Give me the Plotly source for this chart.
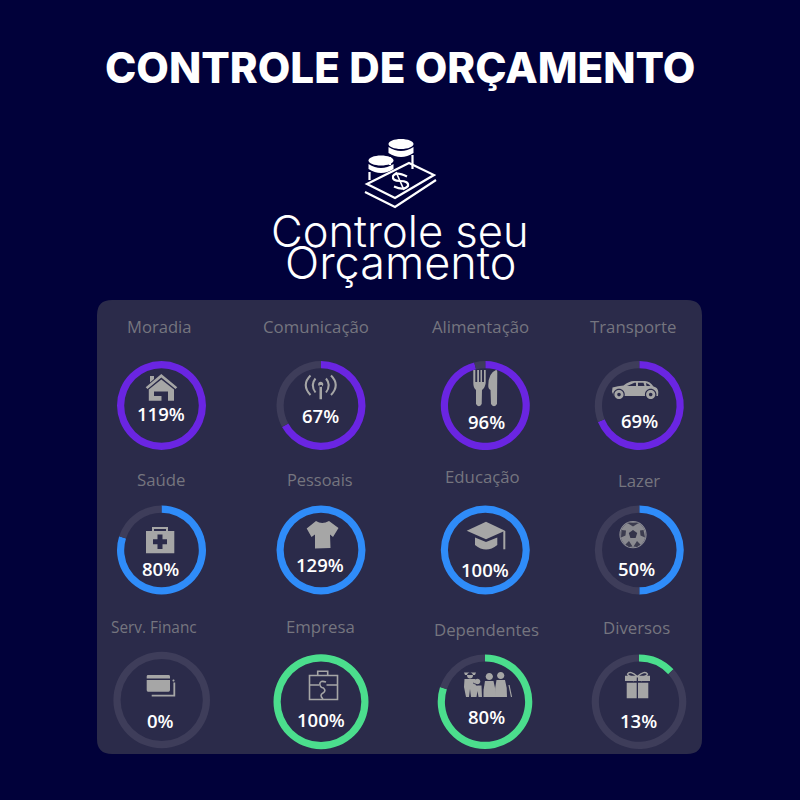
import re
import plotly.graph_objects as go

categories = ["Moradia", "Comunicação", "Alimentação", "Transporte",
              "Saúde", "Pessoais", "Educação", "Lazer",
              "Serv. Financ", "Empresa", "Dependentes", "Diversos"]
percent = [119, 67, 96, 69, 80, 129, 100, 50, 0, 100, 80, 13]
title_text = "CONTROLE DE ORÇAMENTO"
heading_lines = ["Controle seu", "Orçamento"]

PURPLE, BLUE, GREEN = "#6a25e2", "#2f8cf9", "#4bde8d"
TRACK = "#3e3d5a"
BG = "#01013a"
PANEL = "#2b2b4a"
GRAY = "#a6a6a6"
LABEL = "#75757f"
W = 800

# layout: (cx, cy, r, colour, label x, label y, value x, value y, label size) in page pixels
layout_cells = [
    (161.5, 405.5, 44.5, PURPLE, 159, 327, 161, 414, 16.6),
    (321, 405.5, 44.5, PURPLE, 316, 327, 320, 415, 16.8),
    (485.3, 405.5, 44.5, PURPLE, 481, 326, 486, 421, 16.8),
    (639.3, 405.5, 44.5, PURPLE, 633, 327, 639, 420, 16.8),
    (161.5, 550, 44.5, BLUE, 161, 479, 160, 568, 16.8),
    (321, 550, 44.5, BLUE, 320, 479, 320, 564, 16.4),
    (485.3, 550, 44.5, BLUE, 482, 477, 485, 569, 16.8),
    (639.3, 550, 44.5, BLUE, 639, 480, 636, 568, 16.8),
    (161.7, 700, 48.3, GREEN, 154, 627, 160, 720, 15.4),
    (321, 701.7, 47.5, GREEN, 320, 626, 321, 719, 16.8),
    (485, 701.7, 47.3, GREEN, 486, 629, 486, 716, 16.8),
    (639, 701.7, 47.3, GREEN, 636, 627, 638, 720, 16.8),
]


def to_paper(path):
    out, is_x = [], True
    for tok in re.findall(r"[A-Z]|-?\d+\.?\d*", path):
        if tok.isalpha():
            out.append(tok)
            is_x = True
        else:
            v = float(tok)
            out.append(f"{v / W:.5f}," if is_x else f"{1 - v / W:.5f} ")
            is_x = not is_x
    return "".join(out)


shapes = []


def fill(path, color=GRAY, layer="above"):
    shapes.append(dict(type="path", xref="paper", yref="paper", path=to_paper(path),
                       fillcolor=color, line=dict(width=0), fillrule="evenodd", layer=layer))


def stroke(path, width=2, color=GRAY):
    shapes.append(dict(type="path", xref="paper", yref="paper", path=to_paper(path),
                       line=dict(width=width, color=color), fillcolor="rgba(0,0,0,0)", layer="above"))


def ell(cx, cy, rx, ry=None):
    ry = rx if ry is None else ry
    k = 0.5523
    return (f"M{cx - rx},{cy} C{cx - rx},{cy - k * ry} {cx - k * rx},{cy - ry} {cx},{cy - ry} "
            f"C{cx + k * rx},{cy - ry} {cx + rx},{cy - k * ry} {cx + rx},{cy} "
            f"C{cx + rx},{cy + k * ry} {cx + k * rx},{cy + ry} {cx},{cy + ry} "
            f"C{cx - k * rx},{cy + ry} {cx - rx},{cy + k * ry} {cx - rx},{cy} Z ")


def rect(x0, y0, x1, y1):
    return f"M{x0},{y0} L{x1},{y0} L{x1},{y1} L{x0},{y1} Z "


# panel
r = 15
fill(f"M{97 + r},300 L{702 - r},300 Q702,300 702,{300 + r} L702,{754 - r} Q702,754 {702 - r},754 "
     f"L{97 + r},754 Q97,754 97,{754 - r} L97,{300 + r} Q97,300 {97 + r},300 Z", PANEL, "below")

# top coin / banknote icon
WHITE = "#ffffff"
fill(ell(401, 144, 12.5, 5), WHITE)
fill("M388.5,147 Q401,155 413.5,147 L413.5,153 Q401,161 388.5,153 Z", WHITE)
stroke("M390,157 L390,165 M412.5,155 L412.5,169", 2.2, WHITE)
fill(ell(381, 160.5, 12.5, 5), WHITE)
fill("M368.5,164 Q381,172 393.5,164 L393.5,169 Q381,177 368.5,169 Z", WHITE)
stroke("M369.5,172 L369.5,180", 2.2, WHITE)
stroke("M367,184 L409,163 L434,175 L395,198 Z", 2.2, WHITE)
stroke("M365,192 L395,207 L436,180", 2.2, WHITE)
stroke("M407,176.5 Q396,171 393,176 Q392,181 400,181 Q409,181 408,186 Q404,191 394,186.5", 2.2, WHITE)
stroke("M396,172 L404,190", 1.6, WHITE)

# house
fill("M145.7,387.3 L161.3,374 L177.3,387.3 L175.5,389 L161.3,377.5 L147.5,389 Z "
     "M150,376 L154,376 L154,379 L150,382.5 Z")
fill("M148.8,389.5 L161.3,379.5 L174,389.5 L174,400.7 L168,400.7 L168,391.5 L161.5,391.5 L161.5,396 L154,396 "
     "L154,391.5 L161.5,391.5 L161.5,400.7 L148.8,400.7 Z")

# antenna
fill(ell(320.7, 384.3, 2.6) + rect(319.5, 385, 322, 399.3))
stroke("M315.5,378.5 Q310,385 315.5,392.5 M326,378.5 Q331.5,385 326,392.5", 2)
stroke("M310.5,375.5 Q301,385 310.5,395 M331,375.5 Q340.5,385 331,395", 2)

# fork and knife
fill("M473.3,370 L475.3,370 L475.3,382 L477.2,382 L477.2,370 L479,370 L479,382 L480.5,382 L480.5,370 L482,370 "
     "L482,382 L484,382 L484,370 L485.7,370 L485.7,383 Q485,388 482,390 L481.7,404 Q479,408.5 476,404 L476,390 "
     "Q473.3,388 473.3,383 Z")
fill("M496,370 Q497.5,370 497.3,372 L497,404 Q494,408.5 491,404 L490.5,390 Q488,389 488.3,385 Q488.5,373 496,370 Z")

# car
fill("M612,392 L612.5,387.5 Q618,386 623.5,385.5 Q629,381.2 634,381 L645,381 Q650,381.5 653.5,386.5 "
     "Q658,387.5 658.3,392 L658,396 L614,396 Z "
     "M627,386 L634.5,382.8 L636,382.8 L636,386 Z M638,382.8 L643.5,382.8 L644.5,386 L638,386 Z "
     "M646,383 Q649,384 650.5,386 L646.5,386 Z")
fill(ell(619, 394.5, 5.8) + ell(650.7, 394.5, 5.8), PANEL)
fill(ell(619, 394.5, 4.6) + ell(619, 394.5, 1.8) + ell(650.7, 394.5, 4.6) + ell(650.7, 394.5, 1.8))

# medical kit
fill(rect(146, 531, 174.3, 553.3) +
     "M157.5,534.5 L162.5,534.5 L162.5,539.2 L167,539.2 L167,544.2 L162.5,544.2 L162.5,549 L157.5,549 L157.5,544.2 "
     "L153,544.2 L153,539.2 L157.5,539.2 Z")
stroke("M153,531 L153,528 L167,528 L167,531", 2)

# t-shirt
fill("M316,521 Q322,525 329,521 L338.5,528 L333,537 L330,534.5 L330.5,548 L315,548.5 L315,534.5 L311.5,537 "
     "L306.7,528.5 Z")

# graduation cap
fill("M466.7,530.7 L486,521.7 L505,530.7 L486,539.3 Z")
fill("M475,537.5 L486,542 L497.3,537.5 L497.3,545 Q486,554 475,545 Z")
stroke("M504.3,531 L504.3,549.3", 2)

# soccer ball
fill(ell(633, 534.7, 13.6) + ell(633, 534.7, 12.6), "#8e8e96")
fill(ell(633, 534.7, 12.6), "#8a8a90")
fill("M627,522.7 L639,522.7 L633,526.5 Z M643.5,530 L645,537.5 L640.5,535.5 L640,530.5 Z "
     "M621.5,530 L626,530.5 L625.5,535.5 L621,537.5 Z M625.5,544.5 L629,541 L632.5,546.5 L629,547 Z "
     "M640.5,544.5 L637,541 L633.5,546.5 L637,547 Z", "#3c3c4f")
fill("M633,530 L637.2,533 L635.6,538 L630.4,538 L628.8,533 Z", "#33334a")

# credit cards
fill("M148,675 L168.5,675 Q170,675 170,676.5 L170,690 Q170,691.7 168.5,691.7 L148,691.7 Q146.7,691.7 146.7,690 "
     "L146.7,676.5 Q146.7,675 148,675 Z M146.7,678.5 L146.7,680 L170,680 L170,678.5 Z")
stroke("M174.3,682.5 L174.3,695.7 L151.7,695.7", 1.8)
fill(ell(173.5, 680.5, 1))

# business case with dollar
stroke(rect(309.5, 675.5, 337.5, 699.5), 1.6)
stroke("M317.7,675 L317.7,671.3 L327.7,671.3 L327.7,675", 1.6)
stroke("M309.5,685 L319,685 M326.5,685 L337.5,685", 1.6)
stroke("M326,682 Q320,680 319.8,684 Q320,687.5 323.5,688 Q326.5,691 323,693 Q319,695 323,699", 1.6)

# family
fill(ell(470, 675.5, 3) + "M464,672.5 L476,672.5 L475,675 L465,675 Z")
fill("M464.5,679 L475.5,679 L476,687 L474,697 L471,697 L470,689 L469,697 L466,697 L464,687 Z")
fill(ell(477.5, 681.5, 2.8))
fill("M473.5,685.5 L481.5,685.5 L482,697 L478.5,697 L477.5,691 L476.5,697 L473,697 Z")
fill(ell(489.3, 676.5, 3.6))
fill("M485,681 L493.5,681 Q496,690 496,697 L483.5,697 Q483,690 485,681 Z")
fill(ell(500.7, 675.5, 3.6))
fill("M496.5,680 L505,680 Q507.5,688 507,697 L495,697 Q494.5,688 496.5,680 Z")
stroke("M477.5,685 L473,683", 0.8, PANEL)
stroke("M509,685 L511.5,697", 1.2)

# gift
fill(rect(625, 675.7, 636.7, 681) + rect(638, 675.7, 650, 681) +
     rect(626.7, 682.7, 636.7, 698.3) + rect(638, 682.7, 648.3, 698.3))
stroke("M637.3,676.5 Q630,670 627.5,674 Q629,678 637.3,676.5 Q645,670 647.5,674 Q646,678 637.3,676.5", 1.4)
stroke("M636,678 L633,681 M639,678 L642,681", 1.2)

# ---------- charts ----------
fig = go.Figure()
for cat, p, (cx, cy, rad, col, *_rest) in zip(categories, percent, layout_cells):
    done = min(p, 100)
    fig.add_trace(go.Pie(
        labels=["Realizado", "Restante"], values=[done, 100 - done], name=cat,
        sort=False, direction="clockwise", rotation=0, hole=1 - 7.2 / rad,
        marker=dict(colors=[col, TRACK], line=dict(width=0)),
        textinfo="none", hoverinfo="skip", showlegend=False,
        domain=dict(x=[(cx - rad) / W, (cx + rad) / W], y=[1 - (cy + rad) / W, 1 - (cy - rad) / W]),
    ))

ann = []


def text(s, x, y, size, color, family, weight=400):
    ann.append(dict(text=s, x=x / W, y=1 - y / W, xref="paper", yref="paper", showarrow=False,
                    xanchor="center", yanchor="middle",
                    font=dict(size=size, color=color, family=family, weight=weight)))


text(title_text, 400, 67, 42.2, "#ffffff", "Inter", 800)
text(heading_lines[0], 400, 231, 43.5, "#ffffff", "Inter", 300)
text(heading_lines[1], 400, 262, 45, "#ffffff", "Inter", 300)
for cat, p, (_c, _d, _r, _k, lx, ly, vx, vy, ls) in zip(categories, percent, layout_cells):
    text(cat, lx, ly, ls, LABEL, "Open Sans")
    text(f"{p}%", vx, vy, 18.5, "#ffffff", "Open Sans", 600)

fig.update_layout(width=W, height=W, margin=dict(l=0, r=0, t=0, b=0),
                  paper_bgcolor=BG, plot_bgcolor=BG, shapes=shapes, annotations=ann)
fig.write_html("out.html", config=dict(displayModeBar=False),
               post_script=f"document.body.style.margin='0';document.body.style.background='{BG}';"
                           "document.documentElement.style.overflow='hidden';")
